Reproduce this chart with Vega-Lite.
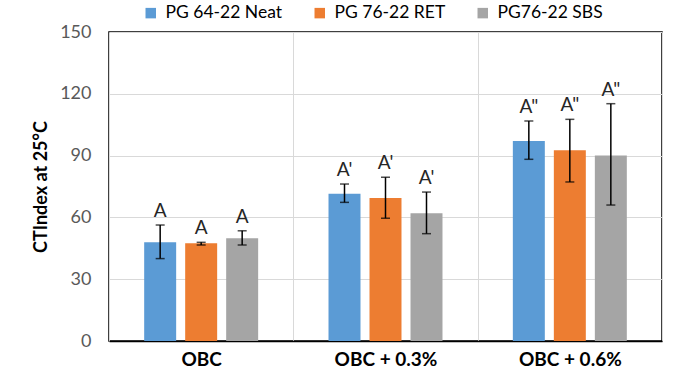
{
  "$schema": "https://vega.github.io/schema/vega-lite/v6.json",
  "width": 553,
  "height": 309,
  "autosize": {"type": "none"},
  "padding": {"left": 109, "top": 32, "right": 23, "bottom": 41},
  "config": {
    "font": "Lato",
    "view": {"stroke": "#000000", "strokeWidth": 1.5},
    "axis": {"labelFont": "Lato", "titleFont": "Lato"},
    "legend": {"labelFont": "Lato"}
  },
  "data": {
    "values": [
      {"group": "OBC", "series": "PG 64-22 Neat", "mean": 47.9, "lo": 40.0, "hi": 56.3, "label": "A"},
      {"group": "OBC", "series": "PG 76-22 RET", "mean": 47.4, "lo": 46.6, "hi": 47.9, "label": "A"},
      {"group": "OBC", "series": "PG76-22 SBS", "mean": 49.9, "lo": 46.6, "hi": 53.5, "label": "A"},
      {"group": "OBC + 0.3%", "series": "PG 64-22 Neat", "mean": 71.5, "lo": 67.3, "hi": 76.2, "label": "A'"},
      {"group": "OBC + 0.3%", "series": "PG 76-22 RET", "mean": 69.4, "lo": 59.6, "hi": 79.5, "label": "A'"},
      {"group": "OBC + 0.3%", "series": "PG76-22 SBS", "mean": 62.0, "lo": 52.1, "hi": 72.3, "label": "A'"},
      {"group": "OBC + 0.6%", "series": "PG 64-22 Neat", "mean": 97.1, "lo": 88.2, "hi": 106.8, "label": "A\""},
      {"group": "OBC + 0.6%", "series": "PG 76-22 RET", "mean": 92.6, "lo": 77.2, "hi": 107.6, "label": "A\""},
      {"group": "OBC + 0.6%", "series": "PG76-22 SBS", "mean": 90.1, "lo": 66.0, "hi": 115.2, "label": "A\""}
    ]
  },
  "encoding": {
    "x": {
      "field": "group", "type": "nominal", "sort": null,
      "scale": {"paddingInner": 0, "paddingOuter": 0},
      "axis": {
        "title": null, "labelAngle": 0, "grid": true, "gridColor": "#d9d9d9", "gridWidth": 1,
        "tickBand": "extent", "ticks": false, "tickSize": 0, "domainColor": "#000000", "domainWidth": 1.5,
        "labelFontSize": 19, "labelFontWeight": "bold", "labelColor": "#000000", "labelPadding": 9
      }
    },
    "xOffset": {
      "field": "series", "type": "nominal", "sort": null,
      "scale": {"paddingInner": 0.22, "paddingOuter": 0.858}
    }
  },
  "layer": [
    {
      "mark": {"type": "bar"},
      "encoding": {
        "y": {
          "field": "mean", "type": "quantitative",
          "scale": {"domain": [0, 150], "nice": false},
          "axis": {
            "values": [0, 30, 60, 90, 120, 150], "grid": true, "gridColor": "#d9d9d9", "gridWidth": 1,
            "ticks": false, "tickSize": 0, "domain": false,
            "labelFontSize": 18, "labelColor": "#595959", "labelPadding": 18,
            "title": "CTIndex at 25°C", "titleFontSize": 18, "titleFontWeight": "bold", "titleColor": "#000000", "titlePadding": 9
          }
        },
        "color": {
          "field": "series", "type": "nominal", "sort": null,
          "scale": {"range": ["#5B9BD5", "#ED7D31", "#A5A5A5"]},
          "legend": {
            "title": null, "orient": "none", "direction": "horizontal", "legendX": 33, "legendY": -28,
            "symbolType": "square", "symbolSize": 110, "symbolStrokeWidth": 0,
            "labelFontSize": 17.5, "labelColor": "#000000", "labelOffset": 6, "columnPadding": 28
          }
        }
      }
    },
    {
      "mark": {"type": "rule", "color": "#000000", "strokeWidth": 1.5},
      "encoding": {
        "y": {"field": "lo", "type": "quantitative"},
        "y2": {"field": "hi"}
      }
    },
    {
      "mark": {"type": "tick", "color": "#000000", "thickness": 1.5, "size": 9},
      "encoding": {"y": {"field": "lo", "type": "quantitative"}}
    },
    {
      "mark": {"type": "tick", "color": "#000000", "thickness": 1.5, "size": 9},
      "encoding": {"y": {"field": "hi", "type": "quantitative"}}
    },
    {
      "mark": {"type": "text", "baseline": "bottom", "dy": -4, "fontSize": 19, "color": "#262626"},
      "encoding": {
        "y": {"field": "hi", "type": "quantitative"},
        "text": {"field": "label"}
      }
    }
  ]
}
